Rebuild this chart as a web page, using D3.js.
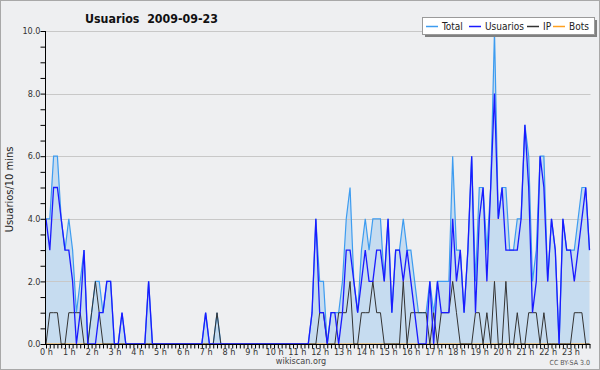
<!DOCTYPE html>
<html>
<head>
<meta charset="utf-8">
<script src="https://cdn.jsdelivr.net/npm/d3@7/dist/d3.min.js"></script>
<style>
  body { margin: 0; background: #fff; }
  text { font-family: "DejaVu Sans Condensed", "DejaVu Sans", sans-serif; }
</style>
</head>
<body>
<div id="chart"></div>
<script>
// one value every 10 minutes, 144 per day
const usuarios = [
  4,3,5,5,4,3,3,2,0,1, 3,0,0,0,1,1,2,2,0,0, 1,0,0,0,0,0,0,2,0,0,
  0,0,0,0,0,0,0,0,0,0, 0,0,1,0,0,0,0,0,0,0, 0,0,0,0,0,0,0,0,0,0,
  0,0,0,0,0,0,0,0,0,0, 1,4,1,1,0,1,1,0,1,3, 3,2,1,2,3,2,2,3,3,2,
  4,1,3,3,2,3,2,1,0,0, 0,2,0,2,1,1,1,4,2,3, 1,3,6,1,4,5,2,5,8,4,
  5,3,3,3,3,4,7,5,1,2, 6,5,2,4,3,0,4,3,3,2, 3,4,5,3
]
const ip = [
  0,1,1,1,0,0,1,1,1,1, 0,0,1,2,1,0,0,0,0,0, 0,0,0,0,0,0,0,0,0,0,
  0,0,0,0,0,0,0,0,0,0, 0,0,0,0,0,1,0,0,0,0, 0,0,0,0,0,0,0,0,0,0,
  0,0,0,0,0,0,0,0,0,0, 0,0,1,1,0,0,0,1,1,1, 2,0,0,1,1,1,2,1,1,0,
  0,0,0,0,2,0,1,1,1,1, 1,0,1,0,1,1,1,2,1,0, 0,0,0,1,1,0,1,0,2,0,
  0,2,0,0,1,0,0,1,1,1, 0,1,0,0,0,0,0,0,0,1, 1,1,0,0
]
const total = [
  4,4,6,6,4,3,4,3,1,2, 3,0,1,2,2,1,2,2,0,0, 1,0,0,0,0,0,0,2,0,0,
  0,0,0,0,0,0,0,0,0,0, 0,0,1,0,0,1,0,0,0,0, 0,0,0,0,0,0,0,0,0,0,
  0,0,0,0,0,0,0,0,0,0, 1,4,2,2,0,1,1,1,2,4, 5,2,1,3,4,3,4,4,4,2,
  4,1,3,3,4,3,3,2,1,1, 1,2,1,2,2,2,2,6,3,3, 1,3,6,2,5,5,3,5,10,4,
  5,5,3,3,4,4,7,6,2,3, 6,6,2,4,3,0,4,3,3,3, 4,5,5,3
]
const bots = [
  0,0,0,0,0,0,0,0,0,0, 0,0,0,0,0,0,0,0,0,0, 0,0,0,0,0,0,0,0,0,0,
  0,0,0,0,0,0,0,0,0,0, 0,0,0,0,0,0,0,0,0,0, 0,0,0,0,0,0,0,0,0,0,
  0,0,0,0,0,0,0,0,0,0, 0,0,0,0,0,0,0,0,0,0, 0,0,0,0,0,0,0,0,0,0,
  0,0,0,0,0,0,0,0,0,0, 0,0,0,0,0,0,0,0,0,0, 0,0,0,0,0,0,0,0,0,0,
  0,0,0,0,0,0,0,0,0,0, 0,0,0,0,0,0,0,0,0,0, 0,0,0,0
]
const hourLabels = [
  "0 h","1 h","2 h","3 h","4 h","5 h","6 h","7 h","8 h","9 h","10 h","11 h",
  "12 h","13 h","14 h","15 h","16 h","17 h","18 h","19 h","20 h","21 h","22 h","23 h"
]
const yTicks = [0, 2, 4, 6, 8, 10]
const legendItems = [
  { name: "Total", color: "#3d9cf0" },
  { name: "Usuarios", color: "#1a1aff" },
  { name: "IP", color: "#333333" },
  { name: "Bots", color: "#ffa020" }
]

const W = 600, H = 370
const PLOT = { left: 46, right: 589.5, top: 31, bottom: 344 }

const svg = d3.select("#chart").append("svg")
    .attr("width", W)
    .attr("height", H)

svg.append("rect")
    .attr("x", 0.5).attr("y", 0.5)
    .attr("width", W - 1).attr("height", H - 1)
    .attr("fill", "#eeeff1")
    .attr("stroke", "#a8a8a8")

const x = d3.scaleLinear().domain([0, usuarios.length - 1]).range([PLOT.left, PLOT.right])
const y = d3.scaleLinear().domain([0, 10]).range([PLOT.bottom, PLOT.top])

// area under total
const area = d3.area()
    .x((d, i) => x(i))
    .y0(y(0))
    .y1(d => y(d))
svg.append("path")
    .datum(total)
    .attr("d", area)
    .attr("fill", "#c6dcf0")

// grid
svg.append("g")
    .selectAll("line")
    .data(yTicks.filter(d => d > 0))
    .join("line")
    .attr("x1", PLOT.left)
    .attr("x2", PLOT.right + 1)
    .attr("y1", d => Math.round(y(d)) + 0.5)
    .attr("y2", d => Math.round(y(d)) + 0.5)
    .attr("stroke", "#c8c8c8")

// series lines
const line = d3.line()
    .x((d, i) => x(i))
    .y(d => y(d))

svg.append("path").datum(total).attr("d", line)
    .attr("fill", "none").attr("stroke", legendItems[0].color).attr("stroke-width", 1.2)
svg.append("path").datum(bots).attr("d", line)
    .attr("fill", "none").attr("stroke", legendItems[3].color).attr("stroke-width", 1)
svg.append("path").datum(ip).attr("d", line)
    .attr("fill", "none").attr("stroke", legendItems[2].color).attr("stroke-width", 1)
svg.append("path").datum(usuarios).attr("d", line)
    .attr("fill", "none").attr("stroke", legendItems[1].color).attr("stroke-width", 1.3)

// y axis
const yAxis = d3.axisLeft(y)
    .tickValues(d3.range(0, 10.01, 0.5))
    .tickSize(5)
    .tickFormat(d => yTicks.includes(d) ? d3.format(".1f")(d) : "")
svg.append("g")
    .attr("transform", `translate(${PLOT.left - 0.5},0)`)
    .call(yAxis)
    .call(g => g.select(".domain").attr("d", `M0,${PLOT.top}V${PLOT.bottom + 0.5}`).attr("stroke", "#000"))
    .call(g => g.selectAll(".tick text").attr("font-size", 9).attr("fill", "#333").attr("x", -5).attr("dy", "0.3em"))

// x axis: ticks every 10 min, labels every hour
const xAxis = d3.axisBottom(x)
    .tickValues(d3.range(0, usuarios.length))
    .tickSize(4)
    .tickFormat(d => d % 6 === 0 ? hourLabels[d / 6] : "")
svg.append("g")
    .attr("transform", `translate(0,${PLOT.bottom + 0.5})`)
    .call(xAxis)
    .call(g => g.select(".domain").attr("d", `M${PLOT.left - 1},0H${PLOT.right + 1}`).attr("stroke", "#000"))
    .call(g => g.selectAll(".tick line").attr("stroke", "#000"))
    .call(g => g.selectAll(".tick text").attr("font-size", 9).attr("fill", "#333").attr("y", 4))

// titles
svg.append("text")
    .attr("x", 85).attr("y", 23)
    .attr("font-size", 13).attr("font-weight", "bold")
    .attr("fill", "#111")
    .attr("xml:space", "preserve")
    .attr("textLength", 133)
    .attr("lengthAdjust", "spacingAndGlyphs")
    .text("Usuarios  2009-09-23")

svg.append("text")
    .attr("transform", `translate(13,${(PLOT.top + PLOT.bottom) / 2 + 2}) rotate(-90)`)
    .attr("text-anchor", "middle")
    .attr("font-family", "DejaVu Sans, sans-serif")
    .attr("font-size", 11)
    .attr("fill", "#222")
    .text("Usuarios/10 mins")

svg.append("text")
    .attr("x", 301).attr("y", 364)
    .attr("text-anchor", "middle")
    .attr("font-size", 9).attr("fill", "#444")
    .text("wikiscan.org")

svg.append("text")
    .attr("x", 590).attr("y", 365)
    .attr("text-anchor", "end")
    .attr("font-size", 7).attr("fill", "#555")
    .text("CC BY-SA 3.0")

// legend
const LEG = { x: 422, y: 17, w: 172, h: 17 }
svg.append("rect")
    .attr("x", LEG.x + 3).attr("y", LEG.y + 3)
    .attr("width", LEG.w).attr("height", LEG.h)
    .attr("fill", "#808080")
svg.append("rect")
    .attr("x", LEG.x + 0.5).attr("y", LEG.y + 0.5)
    .attr("width", LEG.w).attr("height", LEG.h)
    .attr("fill", "#fff").attr("stroke", "#9a9a9a")

const legendX = [426, 469, 527, 553]
const legend = svg.append("g")
    .selectAll("g")
    .data(legendItems)
    .join("g")
    .attr("transform", (d, i) => `translate(${legendX[i]},${LEG.y + 9})`)
legend.append("line")
    .attr("x1", 0).attr("x2", 12)
    .attr("y1", 0.5).attr("y2", 0.5)
    .attr("stroke", d => d.color)
    .attr("stroke-width", 1.5)
legend.append("text")
    .attr("x", 16).attr("y", 4)
    .attr("font-size", 10).attr("fill", "#222")
    .text(d => d.name)
</script>
</body>
</html>
